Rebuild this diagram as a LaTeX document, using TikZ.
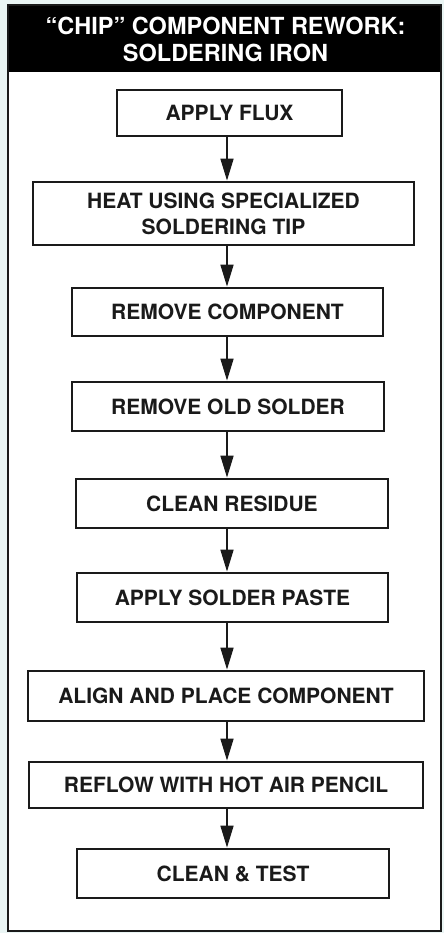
\documentclass[tikz,border=0pt]{standalone}
\usepackage{fontspec}
\setmainfont{TeX Gyre Heros}
\usetikzlibrary{arrows.meta}
\definecolor{paper}{HTML}{EAF5F4}
\definecolor{ink}{HTML}{1A1A1A}
\tikzset{
  stepbox/.style={draw=ink, line width=1.8pt, fill=white, inner sep=0pt,
    align=center, text=ink, font=\bfseries\fontsize{21}{26}\selectfont},
  flow/.style={draw=ink, line width=1.7pt,
    -{Triangle[width=13pt,length=22pt]}, shorten >=0.5pt},
  headline/.style={text=white, inner sep=0pt, align=center,
    font=\bfseries\fontsize{23.5}{27}\selectfont}
}
\begin{document}
\begin{tikzpicture}[x=1pt,y=-1pt]
  % page and outer frame
  \fill[paper] (0,0) rectangle (444,933);
  \fill[white] (8,5) rectangle (441,931);
  \fill[black] (8,5) rectangle (441,72);
  \draw[ink, line width=2pt] (8,5) rectangle (441,931);
  \useasboundingbox (0,0) rectangle (444,933);

  % title
  \node[headline] (title) at (225.5,39) {“CHIP” COMPONENT REWORK:\\SOLDERING IRON};

  % process steps
  \node[stepbox, minimum width=225pt, minimum height=46pt] (s1) at (229.5,113) {APPLY FLUX};
  \node[stepbox, minimum width=381pt, minimum height=63pt] (s2) at (223.5,213.5) {HEAT USING SPECIALIZED\\SOLDERING TIP};
  \node[stepbox, minimum width=311pt, minimum height=48pt] (s3) at (227.5,312) {REMOVE COMPONENT};
  \node[stepbox, minimum width=312pt, minimum height=49pt] (s4) at (228,406.5) {REMOVE OLD SOLDER};
  \node[stepbox, minimum width=312pt, minimum height=49pt] (s5) at (232,503.5) {CLEAN RESIDUE};
  \node[stepbox, minimum width=311pt, minimum height=49pt] (s6) at (232.5,597.5) {APPLY SOLDER PASTE};
  \node[stepbox, minimum width=396pt, minimum height=50pt] (s7) at (226,696) {ALIGN AND PLACE COMPONENT};
  \node[stepbox, minimum width=394pt, minimum height=46pt] (s8) at (226,785) {REFLOW WITH HOT AIR PENCIL};
  \node[stepbox, minimum width=312pt, minimum height=49pt] (s9) at (233,873.5) {CLEAN \& TEST};

  % connectors run down a common axis
  \coordinate (ax) at (227,0);
  \foreach \a/\b in {s1/s2,s2/s3,s3/s4,s4/s5,s5/s6,s6/s7,s7/s8,s8/s9}
    \draw[flow] (\a.south -| ax) -- (\b.north -| ax);
\end{tikzpicture}
\end{document}
